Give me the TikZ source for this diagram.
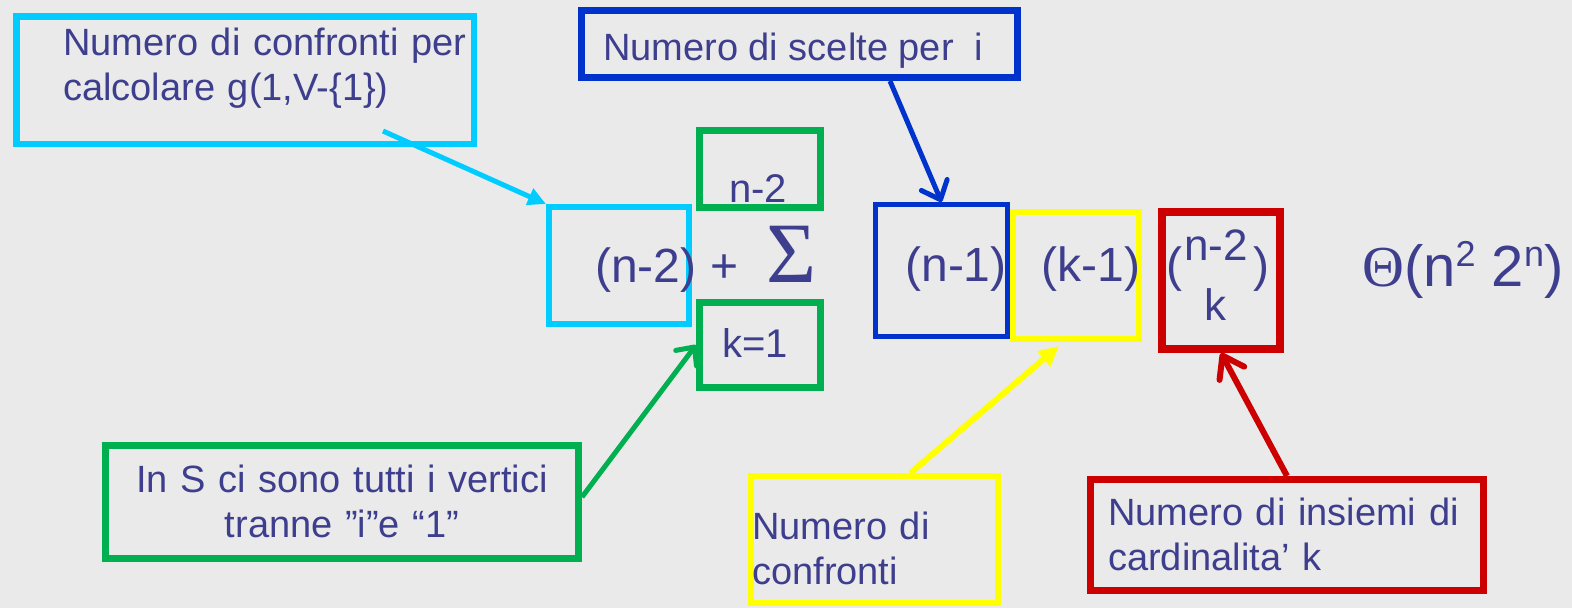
\documentclass[tikz,border=0pt]{standalone}
\usepackage{fontspec}
\setmainfont{Liberation Sans}
\newfontfamily\grk{Liberation Serif}
\usetikzlibrary{arrows.meta}
\definecolor{bgc}{RGB}{234,234,234}
\definecolor{ink}{RGB}{62,62,142}
\definecolor{cyn}{RGB}{0,204,255}
\definecolor{grn}{RGB}{0,176,80}
\definecolor{blu}{RGB}{0,51,204}
\definecolor{ylw}{RGB}{255,255,0}
\definecolor{rd}{RGB}{204,0,0}
\tikzset{
  frm/.style={draw,inner sep=0pt},
  fcyan/.style={frm,draw=cyn},
  fgreen/.style={frm,draw=grn,line width=7pt},
  fblue/.style={frm,draw=blu},
  fyellow/.style={frm,draw=ylw,line width=6pt},
  fred/.style={frm,draw=rd},
  lbl/.style={inner sep=0pt,text=ink,font=\fontsize{38}{45}\selectfont},
  fml/.style={inner sep=0pt,text=ink,font=\fontsize{48}{56}\selectfont},
  cyanarr/.style={draw=cyn,line width=5pt,-{Triangle[length=18pt,width=17pt]}},
  yellowarr/.style={draw=ylw,line width=6pt,-{Triangle[length=20pt,width=19pt]}},
  bluearr/.style={draw=blu,line width=5pt,-{Straight Barb[length=16pt,width=28pt,round]}},
  greenarr/.style={draw=grn,line width=5pt,-{Straight Barb[length=14pt,width=26pt,round]}},
  redarr/.style={draw=rd,line width=6pt,-{Straight Barb[length=20pt,width=28pt,round]}}
}

\begin{document}
\begin{tikzpicture}[x=1pt,y=-1pt]
\path[use as bounding box,fill=bgc] (0,0) rectangle (1572,608);
% frames
\node[fcyan,line width=6.5pt,minimum width=457.5pt,minimum height=127.5pt] (calcbox) at (245,80) {};
\node[fcyan,line width=6pt,minimum width=140pt,minimum height=117pt] (prebox) at (619,265.5) {};
\node[fgreen,minimum width=121pt,minimum height=77pt] (topbox) at (760,169) {};
\node[fgreen,minimum width=121pt,minimum height=85pt] (lowbox) at (760,345) {};
\node[fblue,line width=7pt,minimum width=436pt,minimum height=67pt] (headbox) at (799.5,44) {};
\node[fblue,line width=5pt,minimum width=132pt,minimum height=132pt] (pickbox) at (941.5,270.5) {};
\node[fyellow,minimum width=126pt,minimum height=127pt] (cmpbox) at (1076,275.5) {};
\node[fred,line width=8pt,minimum width=118pt,minimum height=137pt] (binbox) at (1221,280.5) {};
\node[fgreen,minimum width=473pt,minimum height=113pt] (sbox) at (342,502) {};
\node[fyellow,minimum width=247pt,minimum height=127pt] (nbox) at (874.5,539.5) {};
\node[fred,line width=7pt,minimum width=393pt,minimum height=111pt] (cardbox) at (1287,535) {};

% labels
\node[lbl,anchor=base west,text width=440pt,align=left] (calctxt) at (63,55) {Numero di confronti per\\calcolare g(1,V-\{1\})};
\node[lbl,anchor=base west] (headtxt) at (603,60) {Numero di scelte per\ \ i};
\node[lbl,anchor=base,text width=473pt,align=center] (stxt) at (342,492) {In S ci sono tutti i vertici\\tranne ”i”e “1”};
\node[lbl,anchor=base west,text width=240pt,align=left] (ntxt) at (752,539) {Numero di\\confronti};
\node[lbl,anchor=base west,text width=380pt,align=left] (cardtxt) at (1108,525) {Numero di insiemi di\\cardinalita’ k};

% formula
\node[fml,anchor=base west] (pre) at (595,282) {(n-2)};
\node[fml,anchor=base] (plus) at (724.5,282) {+};
\node[fml,anchor=base] (sum) at (791.5,282) {\fontsize{86}{86}\grk Σ};
\node[lbl,font=\fontsize{40}{40}\selectfont,anchor=base] (upper) at (758,202) {n-2};
\node[lbl,font=\fontsize{40}{40}\selectfont,anchor=base] (lower) at (755,357) {k=1};
\node[fml,anchor=base] (pick) at (956,281) {(n-1)};
\node[fml,anchor=base] (cmp) at (1091,281) {(k-1)};
\node[fml,anchor=base west] (binom) at (1166,281) {(\kern2pt\raisebox{-39pt}{\fontsize{44}{60}\selectfont\begin{tabular}[b]{@{}c@{}}n-2\\k\end{tabular}}\kern6pt)};
\node[fml,font=\fontsize{58}{64}\selectfont,anchor=base west] (theta) at (1362,286) {{\grk Θ}(n\raisebox{20pt}{\fontsize{36}{36}\selectfont 2} 2\raisebox{20pt}{\fontsize{36}{36}\selectfont n})};

% arrows
\coordinate (calcfoot) at (383,131);
\coordinate (headfoot) at (890,81);
\draw[cyanarr] (calcfoot) -- (prebox.north west);
\draw[bluearr] (headfoot) -- (pickbox.north);
\draw[greenarr] ([yshift=5pt]sbox.east) -- (lowbox.west);
\draw[yellowarr] ([xshift=36pt]nbox.north) -- ([xshift=-17pt,yshift=-4pt]cmpbox.south);
\draw[redarr] (cardbox.north) -- (binbox.south);
\end{tikzpicture}
\end{document}
